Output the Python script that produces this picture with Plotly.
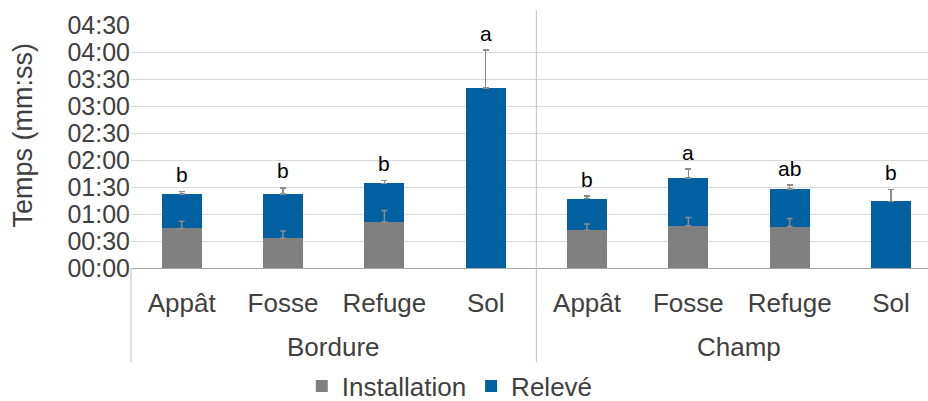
import plotly.graph_objects as go

# Site groups and trap types
groups = ["Bordure"] * 4 + ["Champ"] * 4
supports = ["Appât", "Fosse", "Refuge", "Sol"] * 2

# Durations in seconds (mean and upper error)
installation = [44, 33, 51, None, 42, 47, 46, None]
installation_err = [8, 8, 13, None, 7, 9, 9, None]
releve = [38, 49, 43, 200, 35, 53, 42, 74]
releve_err = [3, 7, 3, 42, 3, 10, 4, 13]
letters = ["b", "b", "b", "a", "b", "a", "ab", "b"]

y_ticks = list(range(0, 271, 30))


def mmss(s):
    return f"{s // 60:02d}:{s % 60:02d}"


GREY = "#808080"
BLUE = "#0060A0"
ERR = "#8c8c8c"
TEXT = "#404040"
FONT = "Liberation Sans, Arial, sans-serif"

# one category per (group, trap type); only the trap type is shown as tick text
keys = [f"{g}-{s}" for g, s in zip(groups, supports)]
x_range = [-0.5, 7.365]

fig = go.Figure()
fig.add_trace(go.Bar(
    x=keys, y=installation, name="Installation", marker_color=GREY,
    marker_line_width=0,
))
fig.add_trace(go.Bar(
    x=keys, y=releve, name="Relevé", marker_color=BLUE, marker_line_width=0,
    error_y=dict(type="data", array=releve_err, arrayminus=[0] * len(releve),
                 symmetric=False, color=ERR, thickness=1.5, width=3),
))
# error bars of the lower segment, drawn above the stacked bars
fig.add_trace(go.Scatter(
    x=keys, y=installation, mode="markers", marker=dict(opacity=0, size=1),
    showlegend=False, hoverinfo="skip",
    error_y=dict(type="data", array=installation_err,
                 arrayminus=[0] * len(installation), symmetric=False,
                 color=ERR, thickness=1.5, width=3),
))

# significance letters above each error bar
for i, (lab, a, b, e) in enumerate(zip(letters, installation, releve, releve_err)):
    top = (a or 0) + b + e
    fig.add_annotation(x=i, y=top, text=lab, showarrow=False, yanchor="middle",
                       yshift=17, font=dict(size=21, color="#000000", family=FONT))

# group labels centred under their categories
for g in dict.fromkeys(groups):
    idx = [i for i, gg in enumerate(groups) if gg == g]
    fig.add_annotation(x=sum(idx) / len(idx), y=-0.325, yref="paper", text=g,
                       showarrow=False, yanchor="middle",
                       font=dict(size=26, color=TEXT, family=FONT))

# y axis title
fig.add_annotation(x=-108 / 797, xref="paper", y=0.545, yref="paper",
                   text="Temps (mm:ss)", textangle=-90, showarrow=False,
                   xanchor="center", yanchor="middle",
                   font=dict(size=27, color=TEXT, family=FONT))


def xfrac(v):
    return (v - x_range[0]) / (x_range[1] - x_range[0])


# category dividers below the axis and between the two groups
line = dict(color="#bfbfbf", width=1)
fig.add_shape(type="line", xref="paper", yref="paper", x0=xfrac(-0.5), x1=xfrac(-0.5),
              y0=0, y1=-0.387, line=line)
fig.add_shape(type="line", xref="paper", yref="paper", x0=xfrac(3.5), x1=xfrac(3.5),
              y0=1.062, y1=-0.387, line=line)

fig.update_layout(
    width=928, height=401,
    margin=dict(l=131, r=0, t=25, b=133, autoexpand=False),
    barmode="stack", bargap=0.605,
    plot_bgcolor="white", paper_bgcolor="white",
    font=dict(family=FONT, size=25, color=TEXT),
    legend=dict(orientation="h", x=0.400, y=-0.486, xanchor="center",
                yanchor="middle", font=dict(size=26), traceorder="normal",
                itemclick=False),
    xaxis=dict(type="category", range=x_range, showline=True,
               linecolor="#a6a6a6", linewidth=1, tickvals=keys,
               ticktext=supports, tickfont=dict(size=26),
               ticks="outside", ticklen=12, tickcolor="rgba(0,0,0,0)",
               showgrid=False, automargin=False),
    yaxis=dict(range=[0, 270], tickvals=y_ticks,
               ticktext=[mmss(v) for v in y_ticks], gridcolor="#d9d9d9",
               showline=False, zeroline=False, ticks="", automargin=False),
)

fig.write_html("out.html")
